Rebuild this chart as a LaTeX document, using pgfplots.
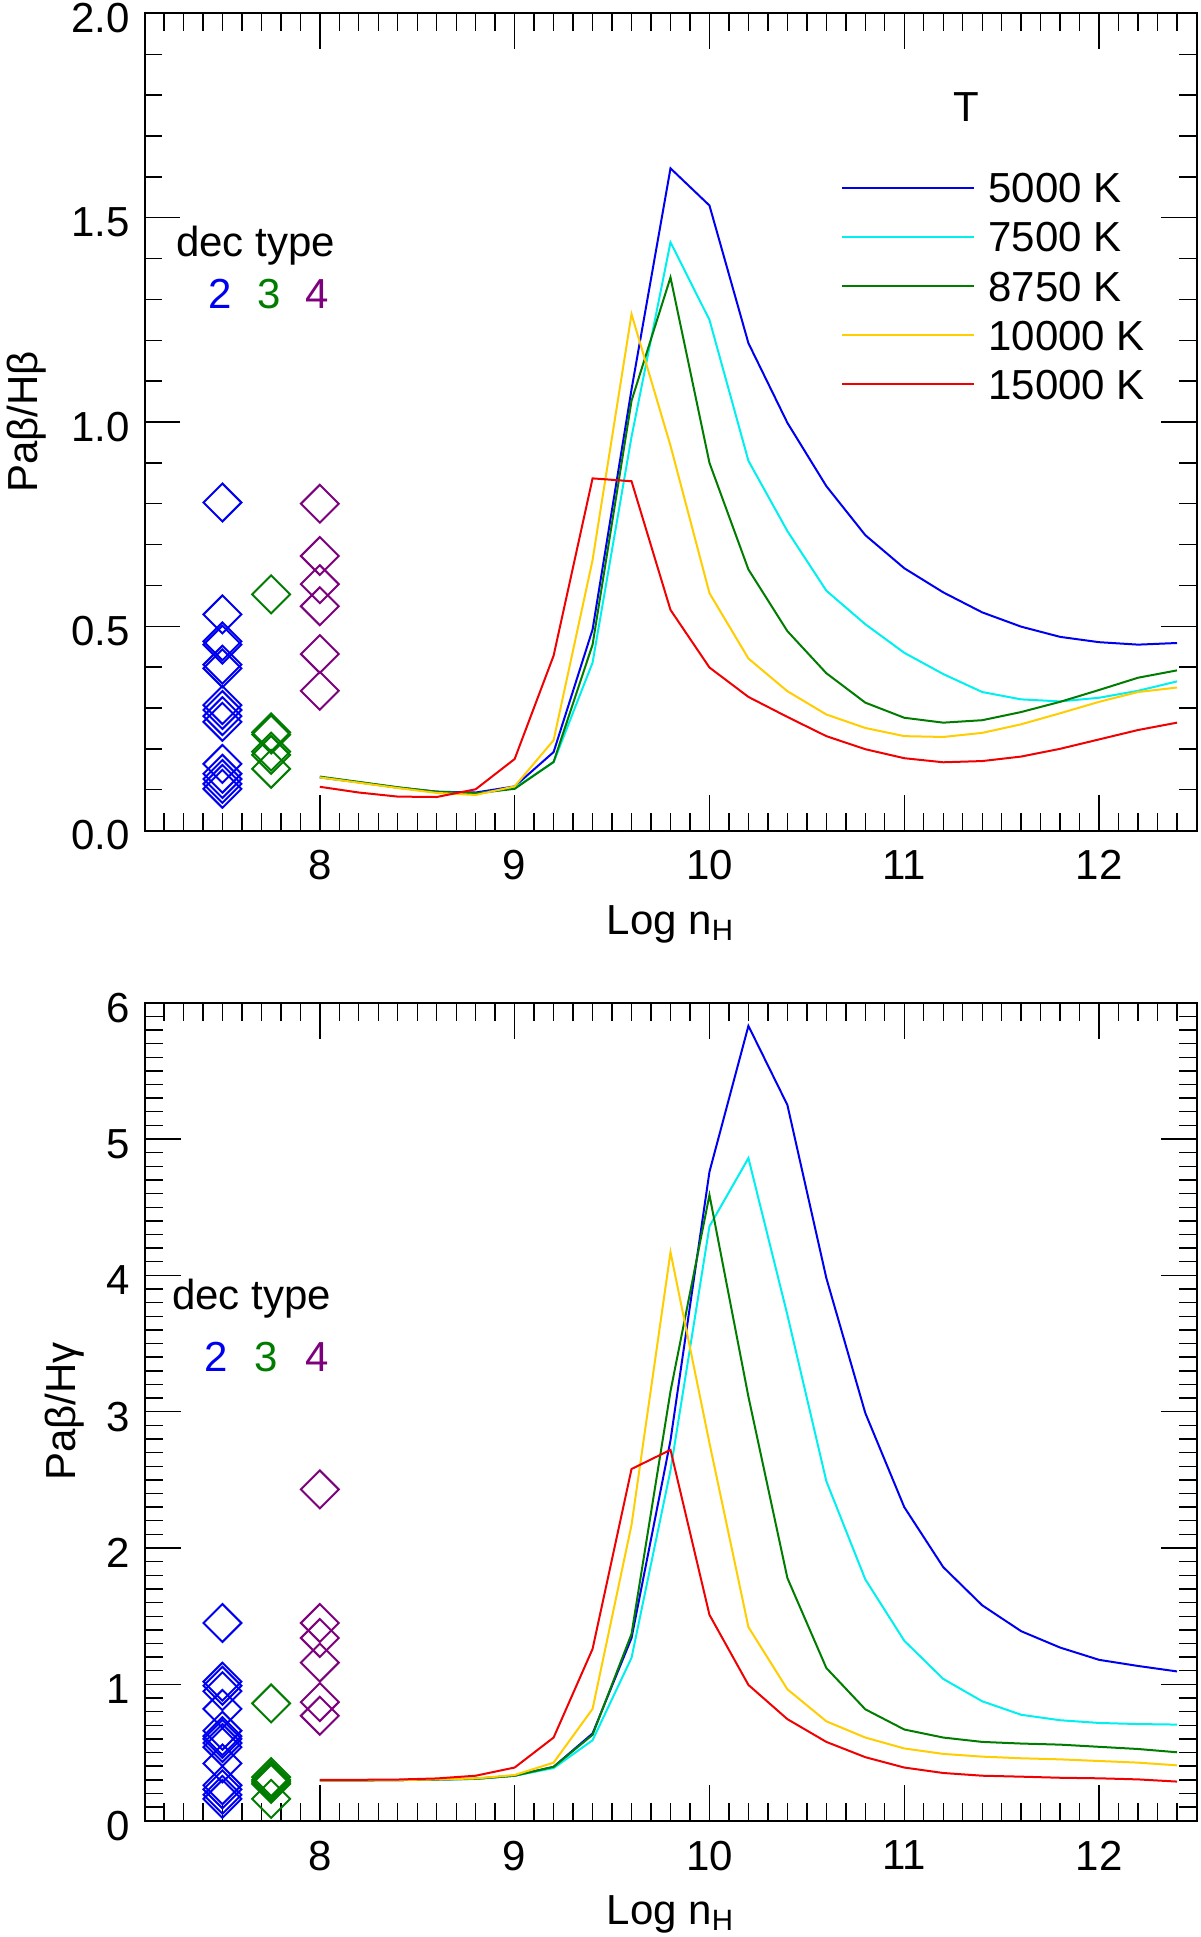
\documentclass[border=0pt]{standalone}
\usepackage{fontspec}
\setmainfont{Liberation Sans}
\usepackage{pgfplots}
\pgfplotsset{compat=1.18}
\definecolor{cBlue}{RGB}{0,0,240}
\definecolor{cCyan}{RGB}{0,240,240}
\definecolor{cGreen}{RGB}{0,125,0}
\definecolor{cYellow}{RGB}{255,205,0}
\definecolor{cRed}{RGB}{240,0,0}
\definecolor{cPurple}{RGB}{125,0,125}
\newcommand{\bigf}{\fontsize{21}{25}\selectfont}
\pgfplotsset{idl/.style={
  scale only axis, width=526pt,
  xmin=7.1, xmax=12.5,
  xtick={8,9,10,11,12},
  minor xtick={7.2,7.3,...,12.45},
  major tick length=18pt, minor tick length=9pt,
  tick style={line width=0.7pt, black},
  axis line style={line width=1pt},
  tick align=inside,
  /pgf/number format/assume math mode=true,
  tick label style={font=\bigf},
  xticklabel style={yshift=-6.5pt},
  yticklabel style={xshift=-3.75pt, yshift=-2.5pt},
  label style={font=\bigf},
  xlabel={Log n\textsubscript{H}},
  every axis plot/.append style={line width=1pt},
  diam/.style={only marks, mark=square, mark size=6.7pt, mark options={rotate=45, line width=1pt}, forget plot},
}}
\begin{document}
\begin{tikzpicture}
\useasboundingbox (0,0) rectangle (600pt,-968.5pt);
% ---------------- top panel ----------------
\begin{axis}[idl, height=408.5pt, at={(72.25pt,-6.75pt)}, anchor=north west,
  ymin=0, ymax=2,
  ytick={0,0.5,1,1.5,2},
  minor ytick={0.1,0.2,...,1.95},
  yticklabel style={/pgf/number format/.cd, fixed, fixed zerofill, precision=1},
  ylabel={Paβ/Hβ},
  ylabel style={at={(axis description cs:-0.1117,0.5)}, anchor=center},
  xlabel style={at={(axis description cs:0.5,-0.1273)}, anchor=base},
  legend style={draw=none, fill=none, inner sep=0pt, outer sep=0pt, row sep=0pt, column sep=0pt,
    font=\bigf, at={(axis cs:10.675,1.634)}, anchor=north west,
    nodes={inner ysep=4.8pt, inner xsep=7pt, text height=15pt, text depth=0pt}},
  legend cell align=left,
  legend image code/.code={\draw[#1] (0pt,0pt) -- (65.8pt,0pt);},
]
\addplot[cBlue] coordinates {(8.0,0.130) (8.2,0.118) (8.4,0.105) (8.6,0.095) (8.8,0.093) (9.0,0.108) (9.2,0.192) (9.4,0.492) (9.6,1.08) (9.8,1.621) (10.0,1.530) (10.2,1.193) (10.4,0.998) (10.6,0.843) (10.8,0.723) (11.0,0.642) (11.2,0.583) (11.4,0.534) (11.6,0.499) (11.8,0.474) (12.0,0.461) (12.2,0.455) (12.4,0.459)};
\addlegendentry{5000 K}
\addplot[cCyan] coordinates {(8.0,0.130) (8.2,0.118) (8.4,0.105) (8.6,0.094) (8.8,0.090) (9.0,0.104) (9.2,0.167) (9.4,0.411) (9.6,0.964) (9.8,1.44) (10.0,1.25) (10.2,0.905) (10.4,0.733) (10.6,0.587) (10.8,0.505) (11.0,0.435) (11.2,0.383) (11.4,0.339) (11.6,0.321) (11.8,0.316) (12.0,0.325) (12.2,0.342) (12.4,0.365)};
\addlegendentry{7500 K}
\addplot[cGreen] coordinates {(8.0,0.132) (8.2,0.119) (8.4,0.106) (8.6,0.095) (8.8,0.091) (9.0,0.102) (9.2,0.168) (9.4,0.455) (9.6,1.052) (9.8,1.354) (10.0,0.90) (10.2,0.639) (10.4,0.488) (10.6,0.385) (10.8,0.313) (11.0,0.276) (11.2,0.264) (11.4,0.270) (11.6,0.290) (11.8,0.315) (12.0,0.344) (12.2,0.374) (12.4,0.392)};
\addlegendentry{8750 K}
\addplot[cYellow] coordinates {(8.0,0.130) (8.2,0.117) (8.4,0.104) (8.6,0.092) (8.8,0.087) (9.0,0.108) (9.2,0.221) (9.4,0.662) (9.6,1.264) (9.8,0.942) (10.0,0.581) (10.2,0.421) (10.4,0.341) (10.6,0.284) (10.8,0.251) (11.0,0.231) (11.2,0.229) (11.4,0.239) (11.6,0.260) (11.8,0.287) (12.0,0.315) (12.2,0.339) (12.4,0.350)};
\addlegendentry{10000 K}
\addplot[cRed] coordinates {(8.0,0.107) (8.2,0.093) (8.4,0.083) (8.6,0.082) (8.8,0.101) (9.0,0.175) (9.2,0.428) (9.4,0.862) (9.6,0.855) (9.8,0.540) (10.0,0.399) (10.2,0.327) (10.4,0.278) (10.6,0.231) (10.8,0.199) (11.0,0.177) (11.2,0.167) (11.4,0.170) (11.6,0.181) (11.8,0.200) (12.0,0.223) (12.2,0.246) (12.4,0.264)};
\addlegendentry{15000 K}
\addplot[diam, cBlue] coordinates {(7.5,0.803) (7.5,0.529) (7.5,0.463) (7.5,0.455) (7.5,0.406) (7.5,0.397) (7.5,0.307) (7.5,0.295) (7.5,0.280) (7.5,0.266) (7.5,0.163) (7.5,0.139) (7.5,0.126) (7.5,0.114) (7.5,0.102)};
\addplot[diam, cGreen] coordinates {(7.75,0.578) (7.75,0.240) (7.75,0.235) (7.75,0.193) (7.75,0.185) (7.75,0.151)};
\addplot[diam, cPurple] coordinates {(8,0.800) (8,0.672) (8,0.603) (8,0.549) (8,0.432) (8,0.342)};
\node[font=\bigf] at (axis cs:11.32,1.772) {T};
\node[font=\bigf] at (axis cs:7.67,1.431) {dec type};
\node[font=\bigf, text=cBlue] at (axis cs:7.487,1.313) {2};
\node[font=\bigf, text=cGreen] at (axis cs:7.739,1.313) {3};
\node[font=\bigf, text=cPurple] at (axis cs:7.988,1.313) {4};
\end{axis}
% ---------------- bottom panel ----------------
\begin{axis}[idl, height=409pt, at={(72.25pt,-501.35pt)}, anchor=north west,
  ymin=0, ymax=6,
  ytick={0,1,2,3,4,5,6},
  minor ytick={0.1,0.2,...,5.95},
  ylabel={Paβ/Hγ},
  ylabel style={at={(axis description cs:-0.0756,0.5)}, anchor=center},
  xlabel style={at={(axis description cs:0.5,-0.1271)}, anchor=base},
]
\addplot[cBlue] coordinates {(8.0,0.296) (8.2,0.296) (8.4,0.298) (8.6,0.302) (8.8,0.308) (9.0,0.33) (9.2,0.395) (9.4,0.64) (9.6,1.34) (9.8,2.79) (10.0,4.76) (10.2,5.83) (10.4,5.25) (10.6,3.98) (10.8,2.99) (11.0,2.30) (11.2,1.86) (11.4,1.58) (11.6,1.39) (11.8,1.27) (12.0,1.18) (12.2,1.135) (12.4,1.095)};
\addplot[cCyan] coordinates {(8.0,0.296) (8.2,0.296) (8.4,0.298) (8.6,0.302) (8.8,0.306) (9.0,0.33) (9.2,0.386) (9.4,0.59) (9.6,1.195) (9.8,2.57) (10.0,4.36) (10.2,4.86) (10.4,3.71) (10.6,2.49) (10.8,1.77) (11.0,1.32) (11.2,1.04) (11.4,0.876) (11.6,0.777) (11.8,0.737) (12.0,0.717) (12.2,0.709) (12.4,0.705)};
\addplot[cGreen] coordinates {(8.0,0.296) (8.2,0.296) (8.4,0.298) (8.6,0.302) (8.8,0.307) (9.0,0.33) (9.2,0.395) (9.4,0.63) (9.6,1.37) (9.8,3.15) (10.0,4.59) (10.2,3.11) (10.4,1.78) (10.6,1.12) (10.8,0.817) (11.0,0.669) (11.2,0.61) (11.4,0.578) (11.6,0.566) (11.8,0.558) (12.0,0.542) (12.2,0.526) (12.4,0.502)};
\addplot[cYellow] coordinates {(8.0,0.296) (8.2,0.296) (8.4,0.298) (8.6,0.303) (8.8,0.31) (9.0,0.335) (9.2,0.426) (9.4,0.82) (9.6,2.17) (9.8,4.17) (10.0,2.77) (10.2,1.42) (10.4,0.964) (10.6,0.729) (10.8,0.61) (11.0,0.53) (11.2,0.49) (11.4,0.47) (11.6,0.458) (11.8,0.45) (12.0,0.438) (12.2,0.426) (12.4,0.406)};
\addplot[cRed] coordinates {(8.0,0.30) (8.2,0.30) (8.4,0.302) (8.6,0.31) (8.8,0.33) (9.0,0.39) (9.2,0.61) (9.4,1.26) (9.6,2.58) (9.8,2.72) (10.0,1.51) (10.2,0.996) (10.4,0.745) (10.6,0.578) (10.8,0.466) (11.0,0.39) (11.2,0.35) (11.4,0.33) (11.6,0.323) (11.8,0.315) (12.0,0.311) (12.2,0.303) (12.4,0.287)};
\addplot[diam, cBlue] coordinates {(7.5,1.45) (7.5,1.02) (7.5,0.99) (7.5,0.95) (7.5,0.82) (7.5,0.66) (7.5,0.62) (7.5,0.60) (7.5,0.57) (7.5,0.54) (7.5,0.42) (7.5,0.26) (7.5,0.23) (7.5,0.19) (7.5,0.16)};
\addplot[diam, cGreen] coordinates {(7.75,0.86) (7.75,0.32) (7.75,0.30) (7.75,0.285) (7.75,0.27) (7.75,0.16)};
\addplot[diam, cPurple] coordinates {(8,2.43) (8,1.45) (8,1.34) (8,1.16) (8,0.87) (8,0.77)};
\node[font=\bigf] at (axis cs:7.65,3.83) {dec type};
\node[font=\bigf, text=cBlue] at (axis cs:7.467,3.40) {2};
\node[font=\bigf, text=cGreen] at (axis cs:7.727,3.40) {3};
\node[font=\bigf, text=cPurple] at (axis cs:7.988,3.40) {4};
\end{axis}
\end{tikzpicture}
\end{document}
